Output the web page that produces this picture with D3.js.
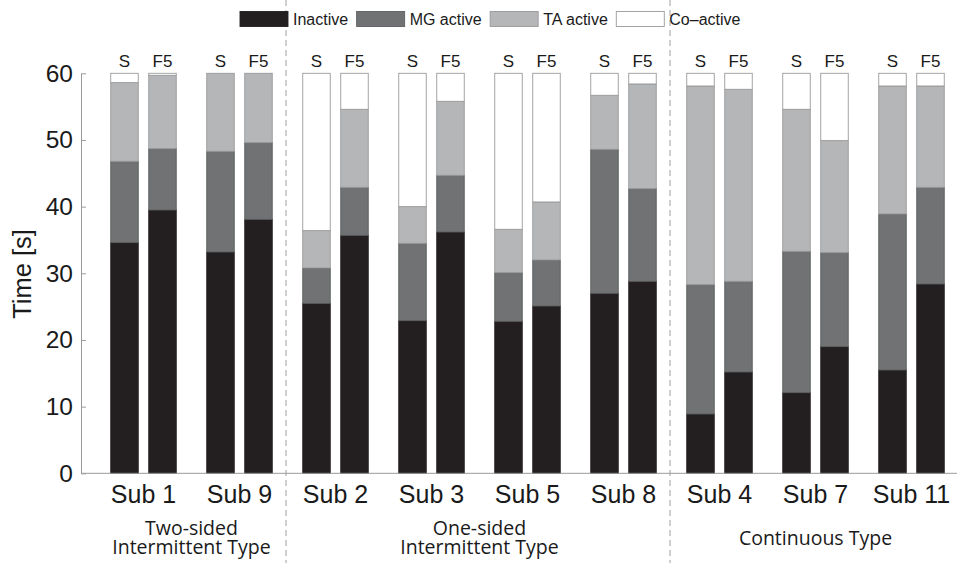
<!DOCTYPE html>
<html>
<head>
<meta charset="utf-8">
<script src="https://cdn.jsdelivr.net/npm/d3@7"></script>
<style>
  html, body { margin: 0; padding: 0; background: #fff; }
  svg { display: block; }
  text { fill: #1a1a1a; }
</style>
</head>
<body>
<svg id="chart" width="960" height="563"></svg>
<script>
// Subjects in plotting order, two conditions per subject
const subjects = ["Sub 1", "Sub 9", "Sub 2", "Sub 3", "Sub 5", "Sub 8", "Sub 4", "Sub 7", "Sub 11"];
const conditions = ["S", "F5"];
const states = ["Inactive", "MG active", "TA active", "Co\u2013active"];

// Seconds spent in each state, ordered Sub 1 S, Sub 1 F5, Sub 9 S, ...
const inactive = [34.6, 39.5, 33.2, 38.1, 25.5, 35.7, 22.9, 36.2, 22.8, 25.1, 27.0, 28.8, 8.9, 15.2, 12.1, 19.0, 15.5, 28.4];
const mgActive = [12.2, 9.2, 15.1, 11.5, 5.3, 7.2, 11.6, 8.5, 7.3, 6.9, 21.6, 13.9, 19.4, 13.6, 21.2, 14.1, 23.4, 14.5];
const taActive = [11.8, 11.0, 11.7, 10.4, 5.6, 11.7, 5.5, 11.1, 6.5, 8.7, 8.1, 15.7, 29.8, 28.8, 21.3, 16.8, 19.2, 15.2];
const coActive = [1.4, 0.3, 0.0, 0.0, 23.6, 5.4, 20.0, 4.2, 23.4, 19.3, 3.3, 1.6, 1.9, 2.4, 5.4, 10.1, 1.9, 1.9];

const yTicks = [0, 10, 20, 30, 40, 50, 60];

// Subject groups along the x axis
const groupNames = [["Two-sided", "Intermittent Type"], ["One-sided", "Intermittent Type"], ["Continuous Type"]];
const groupSizes = [2, 4, 3];

// ---- build table ----
const seriesValues = [inactive, mgActive, taActive, coActive];
const rows = [];
subjects.forEach((s, i) => {
  conditions.forEach((c, j) => {
    const k = i * conditions.length + j;
    const row = { subject: s, condition: c };
    states.forEach((st, m) => { row[st] = seriesValues[m][k]; });
    rows.push(row);
  });
});
const stacked = d3.stack().keys(states)(rows);

const fills = ["#231f20", "#707274", "#b4b6b8", "#ffffff"];
const strokes = ["#231f20", "#5c5e60", "#98999b", "#9a9a9a"];
const axisColor = "#9a9a9a";

const svg = d3.select("#chart");

// ---- scales ----
const x = d3.scaleBand().domain(subjects).range([95.5, 959.5]).padding(0);
const xc = d3.scaleBand().domain(conditions).range([15.25, 80.75]).paddingInner(0.2763).paddingOuter(0);
const y = d3.scaleLinear().domain([0, 60]).range([473.3, 73.3]);

// ---- group separators ----
let acc = 0;
const sepIdx = [];
groupSizes.forEach((n, g) => { acc += n; if (g < groupSizes.length - 1) sepIdx.push(acc); });
svg.append("g").selectAll("line").data(sepIdx).join("line")
  .attr("x1", d => x(subjects[d]) - 1.5).attr("x2", d => x(subjects[d]) - 1.5)
  .attr("y1", 0).attr("y2", 563)
  .attr("stroke", "#a0a0a0").attr("stroke-width", 1)
  .attr("stroke-dasharray", "6,4");

// ---- bars ----
const barG = svg.append("g");
stacked.forEach((layer, m) => {
  barG.append("g").selectAll("rect").data(layer).join("rect")
    .attr("x", d => x(d.data.subject) + xc(d.data.condition))
    .attr("width", xc.bandwidth())
    .attr("y", d => y(d[1]))
    .attr("height", d => Math.max(0, y(d[0]) - y(d[1])))
    .attr("fill", fills[m])
    .attr("stroke", strokes[m])
    .attr("stroke-width", 0.9)
    .attr("display", d => (d[1] - d[0]) > 0 ? null : "none");
});

// ---- condition labels above bars ----
svg.append("g").selectAll("text").data(rows).join("text")
  .attr("x", d => x(d.subject) + xc(d.condition) + xc.bandwidth() / 2)
  .attr("y", 66.5)
  .attr("text-anchor", "middle")
  .attr("font-family", "'Liberation Sans Narrow', 'Liberation Sans', Arial, sans-serif")
  .attr("font-size", 17)
  .text(d => d.condition);

// ---- y axis ----
const yAxis = d3.axisLeft(y).tickValues(yTicks).tickSize(-5).tickPadding(8).tickSizeOuter(0);
const yg = svg.append("g").attr("transform", "translate(81,0)").call(yAxis);
yg.select(".domain").attr("stroke", axisColor);
yg.selectAll(".tick line").attr("stroke", axisColor);
yg.selectAll(".tick text")
  .attr("font-family", "'Liberation Sans', Arial, sans-serif")
  .attr("font-size", 24.5)
  .attr("fill", "#1a1a1a");

// ---- x baseline and subject labels ----
svg.append("line")
  .attr("x1", 81).attr("x2", 957)
  .attr("y1", y(0)).attr("y2", y(0))
  .attr("stroke", axisColor).attr("stroke-width", 1);

svg.append("g").selectAll("text").data(subjects).join("text")
  .attr("x", d => x(d) + x.bandwidth() / 2)
  .attr("y", 503)
  .attr("text-anchor", "middle")
  .attr("font-family", "'Liberation Sans', Arial, sans-serif")
  .attr("font-size", 25)
  .text(d => d);

// ---- group labels ----
let start = 0;
groupSizes.forEach((n, g) => {
  const first = subjects[start], last = subjects[start + n - 1];
  const cx = (x(first) + x(last) + x.bandwidth()) / 2;
  const lines = groupNames[g];
  const t = svg.append("text")
    .attr("text-anchor", "middle")
    .attr("font-family", "'Open Sans', 'Noto Sans', sans-serif")
    .attr("font-size", 19.5);
  if (lines.length === 1) {
    t.append("tspan").attr("x", cx).attr("y", 545).text(lines[0]);
  } else {
    lines.forEach((ln, li) => {
      t.append("tspan").attr("x", cx).attr("y", 535 + li * 19).text(ln);
    });
  }
  start += n;
});

// ---- y axis title ----
svg.append("text")
  .attr("transform", "translate(31,274) rotate(-90)")
  .attr("text-anchor", "middle")
  .attr("font-family", "'Liberation Sans', Arial, sans-serif")
  .attr("font-size", 25.5)
  .text("Time [s]");

// ---- legend ----
const legend = svg.append("g");
let lx = 240;
states.forEach((st, m) => {
  legend.append("rect")
    .attr("x", lx).attr("y", 11.5).attr("width", 48).attr("height", 15)
    .attr("fill", fills[m]).attr("stroke", strokes[m]).attr("stroke-width", 0.9);
  const t = legend.append("text")
    .attr("x", lx + 53).attr("y", 25)
    .attr("font-family", "'Liberation Sans', Arial, sans-serif")
    .attr("font-size", 16)
    .text(st);
  lx += 53 + t.node().getComputedTextLength() + 8.5;
});
</script>
</body>
</html>
